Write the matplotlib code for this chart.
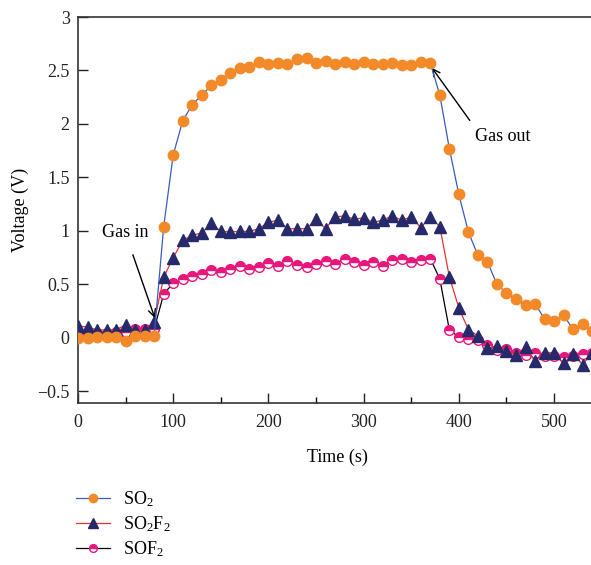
import numpy as np
import matplotlib
matplotlib.use("Agg")
import matplotlib.pyplot as plt
from matplotlib.ticker import MultipleLocator

time_s = list(range(0, 550, 10))

so2 = [0.00, 0.00, 0.01, 0.01, 0.01, -0.03, 0.02, 0.02, 0.02,
       1.04, 1.71, 2.03, 2.18, 2.27, 2.36, 2.41, 2.48, 2.52, 2.53, 2.58,
       2.56, 2.57, 2.56, 2.61, 2.62, 2.57, 2.59, 2.56, 2.58, 2.56,
       2.58, 2.56, 2.56, 2.57, 2.55, 2.55, 2.58, 2.57,
       2.27, 1.77, 1.34, 0.99, 0.77, 0.71, 0.50, 0.42, 0.36, 0.31, 0.32,
       0.175, 0.16, 0.21, 0.08, 0.13, 0.06]

so2f2 = [0.11, 0.10, 0.075, 0.07, 0.075, 0.12, 0.07, 0.07, 0.15,
         0.565, 0.75, 0.91, 0.96, 0.98, 1.07, 0.995, 0.99, 0.995, 0.995, 1.02,
         1.08, 1.10, 1.02, 1.02, 1.02, 1.11, 1.02, 1.13, 1.14, 1.11,
         1.12, 1.08, 1.10, 1.14, 1.10, 1.13, 1.03, 1.13,
         1.04, 0.57, 0.28, 0.075, 0.02, -0.10, -0.075, -0.12, -0.16, -0.09, -0.22,
         -0.14, -0.14, -0.24, -0.15, -0.25, -0.14]

sof2 = [0.03, 0.03, 0.04, 0.04, 0.05, 0.05, 0.08, 0.08, 0.08,
        0.41, 0.51, 0.55, 0.575, 0.60, 0.63, 0.615, 0.64, 0.67, 0.64, 0.66,
        0.70, 0.675, 0.72, 0.68, 0.66, 0.69, 0.72, 0.69, 0.74, 0.71,
        0.68, 0.71, 0.675, 0.73, 0.74, 0.71, 0.73, 0.74,
        0.55, 0.075, 0.005, -0.01, -0.02, -0.07, -0.11, -0.105, -0.14, -0.16, -0.14,
        -0.175, -0.175, -0.18, -0.17, -0.15, -0.14]

labels = [r"SO$_2$", r"SO$_2$F$_2$", r"SOF$_2$"]

plt.rcParams['font.family'] = ['Liberation Serif', 'DejaVu Serif']
plt.rcParams['mathtext.fontset'] = 'custom'
plt.rcParams['mathtext.rm'] = 'Liberation Serif'
plt.rcParams['mathtext.it'] = 'Liberation Serif:italic'
plt.rcParams['mathtext.default'] = 'regular'

W, H = 591, 565
fig = plt.figure(figsize=(W / 100, H / 100), dpi=100)
ax = fig.add_axes([78 / W, 1 - 403 / H, (W - 78) / W + 0.01, (403 - 17) / H])

l3, = ax.plot(time_s, sof2, color='black', lw=0.9, marker='o', ms=7,
              mfc='#E8177B', mfcalt='white', fillstyle='top',
              mec='#E8177B', mew=1.0, zorder=2, label=labels[2])
l2, = ax.plot(time_s, so2f2, color='#E8312F', lw=0.9, marker='^', ms=8.5,
              mfc='#262A6B', mec='#262A6B', zorder=3, label=labels[1])
l1, = ax.plot(time_s, so2, color='#3A5BBF', lw=0.9, marker='o', ms=7.5,
              mfc='#F28A2A', mec='#F28A2A', zorder=4, label=labels[0])

ax.set_xlim(0, 545)
ax.set_ylim(-0.61, 3.0)
ax.xaxis.set_major_locator(MultipleLocator(100))
ax.xaxis.set_minor_locator(MultipleLocator(50))
ax.yaxis.set_major_locator(MultipleLocator(0.5))
ax.tick_params(axis='both', which='major', direction='in', length=7, width=1.0,
               labelsize=13, colors='#222222')
ax.tick_params(axis='x', which='minor', direction='in', length=4, width=1.0)
ax.tick_params(axis='y', which='major', pad=6)
ax.tick_params(axis='x', which='major', pad=8)
ax.yaxis.set_major_formatter(matplotlib.ticker.FuncFormatter(
    lambda v, p: ('\u2212' + f"{abs(v):g}") if v < 0 else f"{v:g}"))

for s in ['left', 'bottom', 'top']:
    ax.spines[s].set_linewidth(1.2)
    ax.spines[s].set_color('#333333')
ax.spines['right'].set_visible(False)

ax.set_xlabel('Time (s)', fontsize=13, labelpad=13)
ax.set_ylabel('Voltage (V)', fontsize=13, labelpad=6)

ax.annotate('Gas in', xy=(80.7, 0.185), xytext=(49.7, 0.98),
            fontsize=13, ha='center', va='center',
            arrowprops=dict(arrowstyle='->', color='black', lw=1.0,
                            shrinkA=8, shrinkB=0))
ax.annotate('Gas out', xy=(371.7, 2.525), xytext=(417, 1.885),
            fontsize=13, ha='left', va='center',
            arrowprops=dict(arrowstyle='->', color='black', lw=1.0,
                            shrinkA=4, shrinkB=0, relpos=(0, 1)))

fig.legend(handles=[l1, l2, l3], labels=labels, loc='upper left',
           bbox_to_anchor=(67 / W, 1 - 480 / H), frameon=False, fontsize=13,
           handlelength=1.9, handletextpad=0.7, labelspacing=0.3,
           markerscale=0.8, borderpad=0)

fig.savefig('out.png', dpi=100)
